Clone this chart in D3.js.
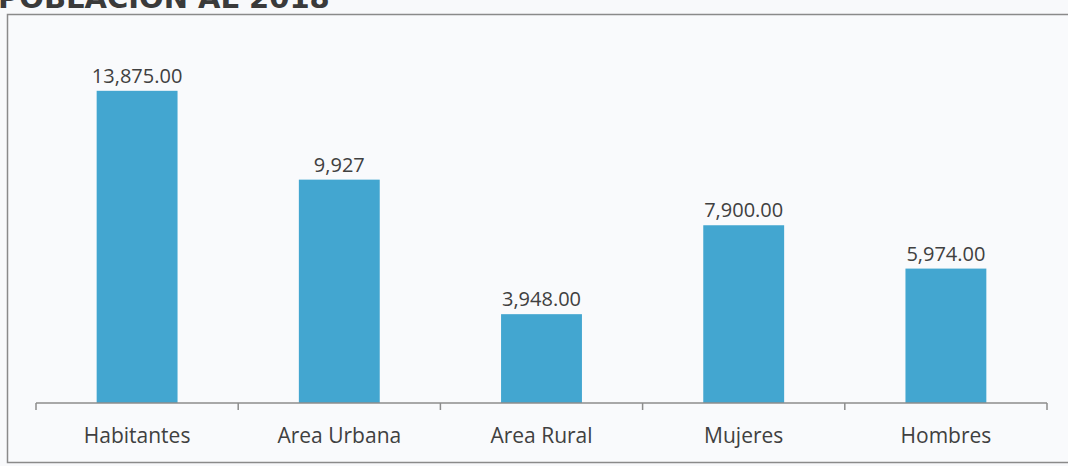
<!DOCTYPE html>
<html>
<head>
<meta charset="utf-8">
<script src="https://cdn.jsdelivr.net/npm/d3@7"></script>
<style>
  body { margin: 0; background: #f8f9fb; overflow: hidden; }
  svg { display: block; }
</style>
</head>
<body>
<div id="chart"></div>
<script>
const categories = ["Habitantes", "Area Urbana", "Area Rural", "Mujeres", "Hombres"];
const values = [13875, 9927, 3948, 7900, 5974];
const valueLabels = ["13,875.00", "9,927", "3,948.00", "7,900.00", "5,974.00"];
const yMax = 16000;

const W = 1068, H = 466;
const svg = d3.select("#chart").append("svg")
    .attr("width", W)
    .attr("height", H);

// frame
svg.append("rect")
    .attr("x", 7.5).attr("y", 14.5)
    .attr("width", 1080).attr("height", 448)
    .attr("fill", "#f9fafc")
    .attr("stroke", "#8a8a8a")
    .attr("stroke-width", 1.5);

// title (cut at top as in the scan)
svg.append("text")
    .attr("x", -2).attr("y", 8)
    .style("font-family", "'DejaVu Sans', Verdana, sans-serif")
    .style("font-weight", "bold")
    .style("font-size", "29px")
    .attr("fill", "#3a3a3a")
    .text("POBLACIÓN AL 2018");

const x = d3.scaleBand()
    .domain(categories)
    .range([36, 1047])
    .paddingInner(0.6)
    .paddingOuter(0.3);

const y = d3.scaleLinear()
    .domain([0, yMax])
    .range([403, 43]);

// bars
svg.selectAll("rect.bar")
    .data(categories)
    .enter()
    .append("rect")
    .attr("class", "bar")
    .attr("x", d => x(d))
    .attr("y", (d, i) => y(values[i]))
    .attr("width", x.bandwidth())
    .attr("height", (d, i) => y(0) - y(values[i]))
    .attr("fill", "#43a6d0");

// value labels
svg.selectAll("text.val")
    .data(categories)
    .enter()
    .append("text")
    .attr("class", "val")
    .attr("x", d => x(d) + x.bandwidth() / 2)
    .attr("y", (d, i) => y(values[i]) - 8)
    .attr("text-anchor", "middle")
    .style("font-family", "'Open Sans', 'Noto Sans', sans-serif")
    .style("font-size", "20px")
    .attr("fill", "#404040")
    .text((d, i) => valueLabels[i]);

// x axis
const axis = d3.axisBottom(x).tickSize(0).tickPadding(25);
const gx = svg.append("g")
    .attr("transform", `translate(0, ${y(0)})`)
    .call(axis);
gx.select(".domain")
    .attr("d", "M36,0H1047")
    .attr("stroke", "#8c8c8c")
    .attr("stroke-width", 1.5);
gx.selectAll(".tick text")
    .style("font-family", "'Open Sans', 'Noto Sans', sans-serif")
    .style("font-size", "21px")
    .attr("fill", "#404040");

// boundary ticks between categories
const bounds = d3.range(categories.length + 1).map(i => 36 + i * (1011 / categories.length));
gx.selectAll("line.sep")
    .data(bounds)
    .enter()
    .append("line")
    .attr("class", "sep")
    .attr("x1", d => d).attr("x2", d => d)
    .attr("y1", 0).attr("y2", 7)
    .attr("stroke", "#8c8c8c")
    .attr("stroke-width", 1.5);
</script>
</body>
</html>
